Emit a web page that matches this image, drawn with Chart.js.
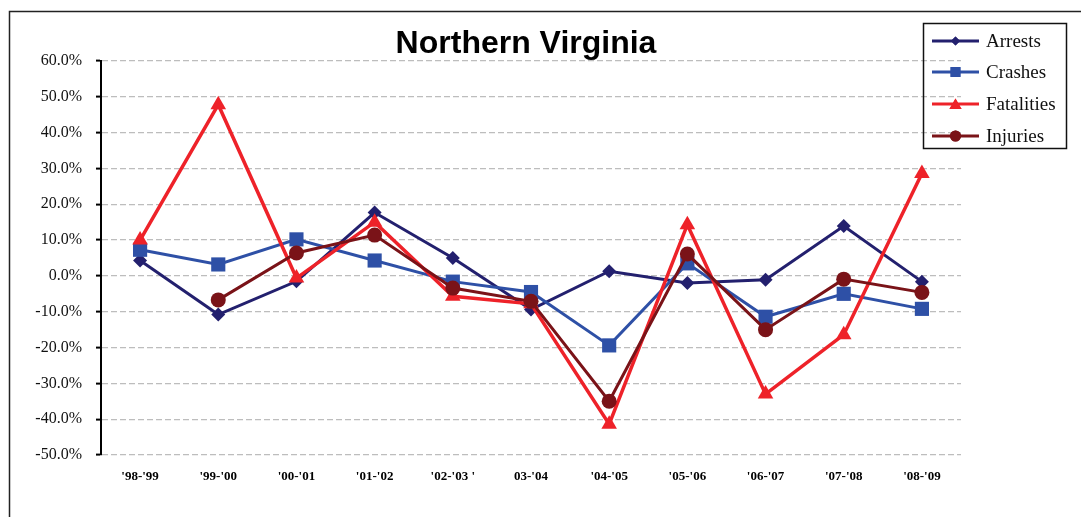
<!DOCTYPE html>
<html>
<head>
<meta charset="utf-8">
<script src="https://cdn.jsdelivr.net/npm/chart.js@4/dist/chart.umd.min.js"></script>
<style>
  html, body { margin: 0; padding: 0; background: #fff; }
  canvas { display: block; }
</style>
</head>
<body>
<canvas id="c" width="1081" height="517"></canvas>
<script>
const categories = ["'98-'99", "'99-'00", "'00-'01", "'01-'02", "'02-'03 '", "03-'04", "'04-'05", "'05-'06", "'06-'07", "'07-'08", "'08-'09"];
const arrests    = [4.3, -10.8, -1.5, 17.7, 5.0, -9.4, 1.3, -2.0, -1.1, 13.9, -1.6];
const crashes    = [7.3, 3.2, 10.2, 4.3, -1.6, -4.5, -19.4, 3.5, -11.4, -5.0, -9.2];
const fatalities = [10.0, 47.8, -0.6, 15.0, -5.7, -7.8, -41.4, 14.3, -33.0, -16.4, 28.6];
const injuries   = [null, -6.7, 6.4, 11.4, -3.4, -7.1, -35.0, 6.1, -15.0, -0.9, -4.6];
const seriesNames = ['Arrests', 'Crashes', 'Fatalities', 'Injuries'];
const yMin = -50, yMax = 60, yStep = 10;
const titleText = 'Northern Virginia';

const colors = { Arrests: '#23206E', Crashes: '#2E50A6', Fatalities: '#EE2229', Injuries: '#7A1318' };

function ds(label, data, style, radius, width, order) {
  return {
    label, data, order,
    borderColor: colors[label], backgroundColor: colors[label],
    pointBackgroundColor: colors[label], pointBorderColor: colors[label],
    pointStyle: style, pointRadius: radius, pointHoverRadius: radius,
    pointBorderWidth: 0, borderWidth: width, tension: 0, spanGaps: false
  };
}

const framePlugin = {
  id: 'frame',
  beforeDraw(chart) {
    const ctx = chart.ctx;
    ctx.save();
    ctx.fillStyle = '#fff';
    ctx.fillRect(0, 0, chart.width, chart.height);
    ctx.strokeStyle = '#222';
    ctx.lineWidth = 1.5;
    ctx.beginPath();
    ctx.moveTo(9.5, chart.height);
    ctx.lineTo(9.5, 11.5);
    ctx.lineTo(chart.width, 11.5);
    ctx.stroke();
    ctx.restore();
  },
  afterDraw(chart) {
    const ctx = chart.ctx;
    ctx.save();
    // Title
    ctx.fillStyle = '#000';
    ctx.font = 'bold 32px "Liberation Sans", Arial, sans-serif';
    ctx.textAlign = 'center';
    ctx.textBaseline = 'middle';
    ctx.fillText(titleText, 526, 44);
    // Legend box
    ctx.strokeStyle = '#111';
    ctx.lineWidth = 1.5;
    ctx.strokeRect(923.5, 23.5, 143, 125);
    const rowY = [41, 72, 104, 136];
    const legendStyles = { Arrests: ['rectRot', 4.5], Crashes: ['rect', 7], Fatalities: ['triangle', 7], Injuries: ['circle', 5.5] };
    chart.data.datasets.forEach((d, i) => {
      const y = rowY[i];
      ctx.strokeStyle = d.borderColor;
      ctx.lineWidth = 3;
      ctx.beginPath();
      ctx.moveTo(932, y);
      ctx.lineTo(979, y);
      ctx.stroke();
      ctx.fillStyle = d.borderColor;
      Chart.helpers.drawPoint(ctx, { pointStyle: legendStyles[d.label][0], radius: legendStyles[d.label][1], borderWidth: 0, rotation: 0 }, 955.5, y + (d.label === 'Fatalities' ? 1.5 : 0));
      ctx.fill();
      ctx.fillStyle = '#111';
      ctx.font = '19px "Liberation Serif", "Times New Roman", serif';
      ctx.textAlign = 'left';
      ctx.textBaseline = 'middle';
      ctx.fillText(d.label, 986, y + 1);
    });
    ctx.restore();
  }
};

new Chart(document.getElementById('c'), {
  type: 'line',
  data: {
    labels: categories,
    datasets: [
      ds(seriesNames[0], arrests, 'rectRot', 7, 3, 4),
      ds(seriesNames[1], crashes, 'rect', 10, 3, 3),
      ds(seriesNames[2], fatalities, 'triangle', 9, 3.5, 2),
      ds(seriesNames[3], injuries, 'circle', 7.5, 3, 1)
    ]
  },
  options: {
    responsive: false,
    animation: false,
    events: [],
    layout: { padding: { left: 0, right: 120, top: 61, bottom: 22 } },
    plugins: { legend: { display: false }, title: { display: false }, tooltip: { enabled: false } },
    scales: {
      x: {
        offset: true,
        grid: { display: false, drawTicks: false },
        border: { display: false },
        ticks: {
          padding: 14,
          color: '#000',
          maxRotation: 0,
          autoSkip: false,
          font: { family: '"Liberation Serif", "Times New Roman", serif', size: 13, weight: 'bold' }
        },
        afterFit(s) { s.height = 40; }
      },
      y: {
        min: yMin, max: yMax,
        grid: {
          color: '#BDBDBD', lineWidth: 1.2,
          drawTicks: true, tickLength: 5, tickColor: '#000', tickWidth: 2, tickBorderDash: []
        },
        border: { display: true, color: '#000', width: 2, dash: [6, 3] },
        ticks: {
          stepSize: yStep,
          padding: 14,
          color: '#111',
          font: { family: '"Liberation Serif", "Times New Roman", serif', size: 16 },
          callback: v => v.toFixed(1) + '%'
        },
        afterFit(s) { s.width = 101; }
      }
    }
  },
  plugins: [framePlugin]
});
</script>
</body>
</html>
